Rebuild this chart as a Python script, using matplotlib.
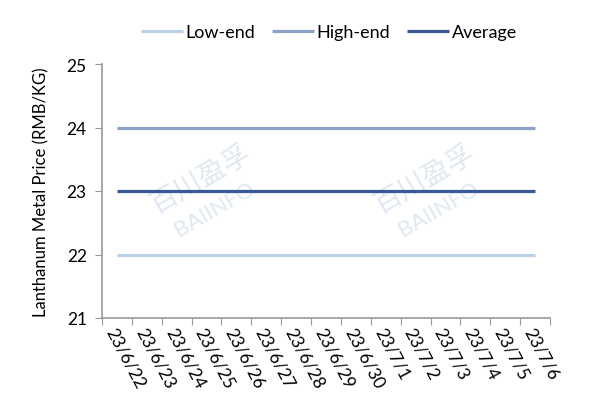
import matplotlib
matplotlib.use("Agg")
import matplotlib.pyplot as plt
import numpy as np

plt.rcParams['font.family'] = ['Lato', 'DejaVu Sans']

dates = ["23/6/22", "23/6/23", "23/6/24", "23/6/25", "23/6/26", "23/6/27", "23/6/28",
         "23/6/29", "23/6/30", "23/7/1", "23/7/2", "23/7/3", "23/7/4", "23/7/5", "23/7/6"]
low_end = [22, 22, 22, 22, 22, 22, 22, 22, 22, 22, 22, 22, 22, 22, 22]
high_end = [24, 24, 24, 24, 24, 24, 24, 24, 24, 24, 24, 24, 24, 24, 24]
average = [23, 23, 23, 23, 23, 23, 23, 23, 23, 23, 23, 23, 23, 23, 23]

fig = plt.figure(figsize=(5.98, 4.14), dpi=100)
ax = fig.add_axes([102/598, 1 - 319/414, 448/598, 254/414])

x = np.arange(len(dates))
ax.plot(x, low_end, color='#bcd0e8', lw=2.3, label='Low-end', solid_capstyle='butt')
ax.plot(x, high_end, color='#8ea1c7', lw=2.3, label='High-end', solid_capstyle='butt')
ax.plot(x, average, color='#3a5896', lw=2.3, label='Average', solid_capstyle='butt')

ax.set_xlim(-0.5, len(dates) - 0.5)
ax.set_ylim(21, 25)
ax.set_yticks([21, 22, 23, 24, 25])
ax.tick_params(axis='y', labelsize=12.5, length=5, color='#999999', pad=6)
ax.set_xticks(np.arange(len(dates) + 1) - 0.5)
ax.set_xticklabels([])
ax.tick_params(axis='x', length=5, color='#999999')
ax.set_xticks(x, minor=True)
ax.set_xticklabels(dates, minor=True, rotation=-62, ha='left', va='top',
                   rotation_mode='anchor', fontsize=12.5)
ax.tick_params(axis='x', which='minor', length=0, pad=5)

for s in ['top', 'right']:
    ax.spines[s].set_visible(False)
for s in ['left', 'bottom']:
    ax.spines[s].set_color('#999999')
    ax.spines[s].set_linewidth(1.2)

ax.set_ylabel('Lanthanum Metal Price (RMB/KG)', fontsize=12, labelpad=12)

# watermarks
for wx in [0.22, 0.72]:
    ax.text(wx, 0.55, '百川盈孚', transform=ax.transAxes, rotation=30,
            fontsize=20, color='#dfe8f1', ha='center', va='center',
            family=['Noto Sans CJK SC', 'DejaVu Sans'], zorder=0)
    ax.text(wx + 0.03, 0.43, 'BAIINFO', transform=ax.transAxes, rotation=30,
            fontsize=16, color='#dfe8f1', ha='center', va='center', zorder=0)

fig.legend(loc='center', bbox_to_anchor=(329/598, 1 - 33/414), ncol=3, frameon=False,
           fontsize=13, handlelength=2.3, handletextpad=0.15, columnspacing=0.95)

fig.savefig('out.png', dpi=100)
